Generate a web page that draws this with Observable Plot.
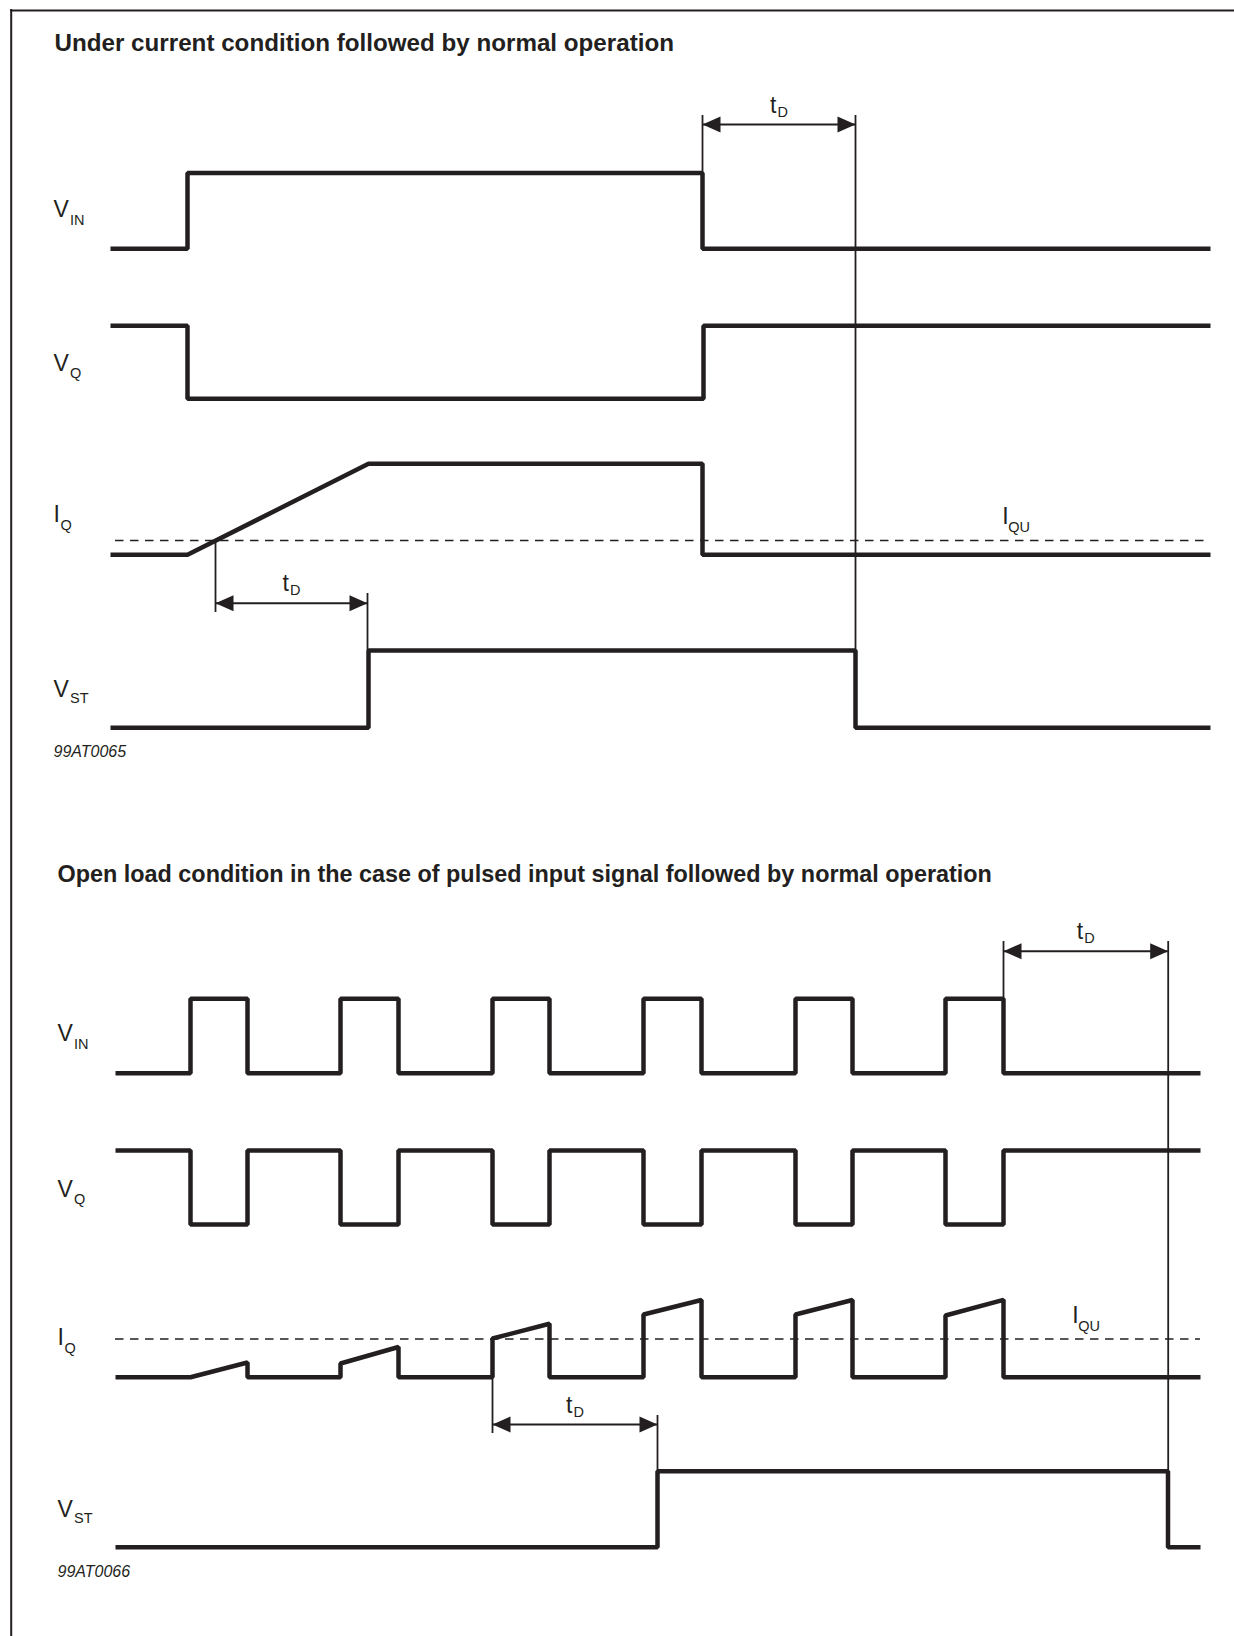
<!DOCTYPE html>
<html><head><meta charset="utf-8">
<script src="https://cdn.jsdelivr.net/npm/d3@7"></script>
<script src="https://cdn.jsdelivr.net/npm/@observablehq/plot@0.6"></script>
<style>html,body{margin:0;padding:0;background:#fff;overflow:hidden}</style>
</head><body><div id="chart"></div>
<script>
// ---------- values (picture units) ----------
// Top diagram: under current condition
const topSpan = [110, 1210];
const topLow  = [248.3, 398.3, 554.3, 727.3];   // VIN, VQ, IQ, VST low levels
const topHigh = [172.5, 325.3, 463.3, 650];     // VIN, VQ, IQ, VST high levels
const topVinEdges = [187, 702];
const topVqEdges  = [187, 703];
const topIqRamp   = [187, 368];
const topIqFall   = 702;
const topVstEdges = [368, 855];
const topIqu = 540;

// Bottom diagram: open load with pulsed input
const botSpan = [115, 1200];
const botLow  = [1072.7, 1224, 1376.7, 1546.7];
const botHigh = [998.3, 1150, 1299.5, 1470.7];
const botRise = [190, 340, 492, 643, 795, 945];
const botFall = [247, 398, 549, 701, 852, 1003];
const botIqStart = [1376.7, 1363, 1338, 1314, 1314, 1315];
const botIqEnd   = [1362, 1346.5, 1323.3, 1299.5, 1299.5, 1299.3];
const botVstEdges = [657, 1167.5];
const botIqu = 1338.5;

// Dimension arrows (tD)
const dimY  = [124, 602.7, 950.7, 1424];
const dimX1 = [702, 215, 1003, 492];
const dimX2 = [855, 367, 1167.7, 657];
// extension lines: x, y1, y2
const extX  = [702, 855, 215, 367, 1003, 1167.7, 492, 657];
const extY1 = [115, 115, 540, 593, 941, 941, 1338, 1415];
const extY2 = [172.5, 727.3, 612, 650, 998.3, 1546.7, 1433, 1470.7];

// Text
const titles = ["Under current condition followed by normal operation",
  "Open load condition in the case of pulsed input signal followed by normal operation"];
const titleX = [54, 57];
const titleY = [50, 881];
const titleSize = [24.2, 23.4];
const codes = ["99AT0065", "99AT0066"];
const codeX = [53, 57];
const codeY = [756.7, 1576];
const labelMain = ["V", "V", "I", "V"];
const labelSub  = ["IN", "Q", "Q", "ST"];
const labelSubDx = [16.5, 16.5, 7, 16.5];
const labelDy = [32, 28, 32.6, 30.6];     // baseline above the row's low level
const labelSubDrop = [8, 7, 8, 6];
const iquText = ["I", "QU"];

const ink = "#231f20";
const font = "Liberation Sans, Arial, Helvetica, sans-serif";

// ---------- build geometry ----------
function step(x0, x1, a, b, edges) {
  const pts = [[x0, a]]; let lv = a;
  for (const e of edges) { pts.push([e, lv]); lv = (lv === a) ? b : a; pts.push([e, lv]); }
  pts.push([x1, lv]); return pts;
}
const sig = [];
function add(id, pts) { pts.forEach(([x, y]) => sig.push({id, x, y})); }
add("tVIN", step(topSpan[0], topSpan[1], topLow[0], topHigh[0], topVinEdges));
add("tVQ",  step(topSpan[0], topSpan[1], topHigh[1], topLow[1], topVqEdges));
add("tIQ",  [[topSpan[0], topLow[2]], [topIqRamp[0], topLow[2]], [topIqRamp[1], topHigh[2]],
             [topIqFall, topHigh[2]], [topIqFall, topLow[2]], [topSpan[1], topLow[2]]]);
add("tVST", step(topSpan[0], topSpan[1], topLow[3], topHigh[3], topVstEdges));

const bEdges = botRise.flatMap((r, i) => [r, botFall[i]]);
add("bVIN", step(botSpan[0], botSpan[1], botLow[0], botHigh[0], bEdges));
add("bVQ",  step(botSpan[0], botSpan[1], botHigh[1], botLow[1], bEdges));
const biq = [[botSpan[0], botLow[2]]];
botRise.forEach((r, i) => {
  biq.push([r, botLow[2]], [r, botIqStart[i]], [botFall[i], botIqEnd[i]], [botFall[i], botLow[2]]);
});
biq.push([botSpan[1], botLow[2]]);
add("bIQ", biq);
add("bVST", step(botSpan[0], botSpan[1], botLow[3], botHigh[3], botVstEdges));

// arrow heads
const heads = [];
const hl = 18, hw = 8;
dimY.forEach((y, i) => {
  const a = dimX1[i], b = dimX2[i];
  [[a, y], [a + hl, y - hw], [a + hl, y + hw]].forEach(([x, yy]) => heads.push({id: "L" + i, x, y: yy}));
  [[b, y], [b - hl, y - hw], [b - hl, y + hw]].forEach(([x, yy]) => heads.push({id: "R" + i, x, y: yy}));
});
const dims = dimY.map((y, i) => ({y, x1: dimX1[i], x2: dimX2[i]}));
const exts = extX.map((x, i) => ({x, y1: extY1[i], y2: extY2[i]}));

// labels
const mainTxt = [], subTxt = [];
[topLow, botLow].forEach((lows, c) => {
  const lx = c === 0 ? 53 : 57;
  lows.forEach((lo, i) => {
    mainTxt.push({x: lx, y: lo - labelDy[i], t: labelMain[i]});
    subTxt.push({x: lx + labelSubDx[i], y: lo - labelDy[i] + labelSubDrop[i], t: labelSub[i]});
  });
});
// tD labels
dims.forEach(d => {
  const m = (d.x1 + d.x2) / 2;
  mainTxt.push({x: m - 9, y: d.y - 12, t: "t"});
  subTxt.push({x: m - 1.5, y: d.y - 8, t: "D"});
});
// IQU labels
[[1001.7, topIqu], [1071.7, botIqu]].forEach(([x, y]) => {
  mainTxt.push({x, y: y - 16.5, t: iquText[0]});
  subTxt.push({x: x + 6, y: y - 8.5, t: iquText[1]});
});

const titleData = titles.map((t, i) => ({t, x: titleX[i], y: titleY[i], s: titleSize[i]}));
const codeData = codes.map((t, i) => ({t, x: codeX[i], y: codeY[i]}));

const chart = Plot.plot({
  width: 1234, height: 1636, margin: 0,
  x: {domain: [0, 1234], range: [0, 1234], axis: null},
  y: {domain: [0, 1636], range: [0, 1636], axis: null},
  style: {background: "#fff"},
  marks: [
    // frame (top and left)
    Plot.ruleY([10], {x1: 10, x2: 1234, stroke: ink, strokeWidth: 2}),
    Plot.ruleX([10.7], {y1: 9, y2: 1636, stroke: ink, strokeWidth: 2}),
    // IQU threshold
    Plot.ruleY([topIqu], {x1: topSpan[0] + 5, x2: topSpan[1], stroke: ink, strokeWidth: 1.5, strokeDasharray: "8.5,6.5"}),
    Plot.ruleY([botIqu], {x1: botSpan[0], x2: botSpan[1], stroke: ink, strokeWidth: 1.5, strokeDasharray: "8.5,6.5"}),
    // signals
    Plot.line(sig, {x: "x", y: "y", z: "id", stroke: ink, strokeWidth: 4.5, strokeLinejoin: "miter", strokeLinecap: "butt"}),
    // dimension lines
    Plot.ruleX(exts, {x: "x", y1: "y1", y2: "y2", stroke: ink, strokeWidth: 1.8}),
    Plot.ruleY(dims, {y: "y", x1: "x1", x2: "x2", stroke: ink, strokeWidth: 2}),
    Plot.line(heads, {x: "x", y: "y", z: "id", fill: ink, stroke: "none"}),
    // text
    Plot.text(titleData, {x: "x", y: "y", text: "t", fontSize: "s", textAnchor: "start", lineAnchor: "bottom", fontWeight: "bold", fontFamily: font, fill: ink}),
    Plot.text(codeData, {x: "x", y: "y", text: "t", textAnchor: "start", lineAnchor: "bottom", fontSize: 16, fontStyle: "italic", fontFamily: font, fill: ink}),
    Plot.text(mainTxt, {x: "x", y: "y", text: "t", textAnchor: "start", lineAnchor: "bottom", fontSize: 23, fontFamily: font, fill: ink}),
    Plot.text(subTxt, {x: "x", y: "y", text: "t", textAnchor: "start", lineAnchor: "bottom", fontSize: 14.5, fontFamily: font, fill: ink})
  ]
});
document.getElementById("chart").appendChild(chart);
</script></body></html>
